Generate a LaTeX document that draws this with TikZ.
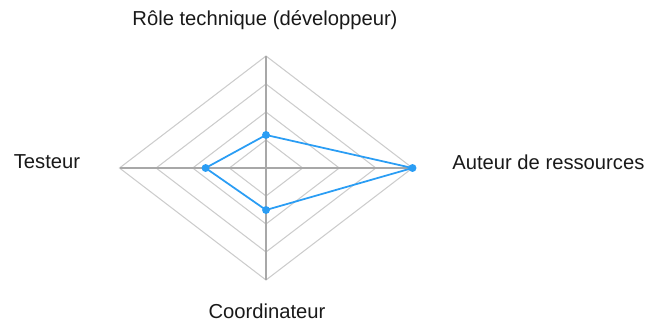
\documentclass[tikz,border=0pt]{standalone}
\usepackage{fontspec}
\setmainfont{Liberation Sans}
\usepackage{xcolor}
\usetikzlibrary{calc}

\definecolor{gridgray}{HTML}{CCCCCC}
\definecolor{axisgray}{HTML}{A8A8A8}
\definecolor{seriesblue}{HTML}{2A9DF4}

\begin{document}
\begin{tikzpicture}[
    x=0.02cm, y=-0.02cm,
    ring/.style={draw=gridgray, line width=0.6pt},
    axisline/.style={draw=axisgray, line width=0.6pt},
    series/.style={draw=seriesblue, line width=1pt, line join=round},
    dot/.style={circle, fill=seriesblue, inner sep=0pt, minimum size=4.5pt},
    axislabel/.style={font=\fontsize{11.5}{13}\selectfont, text=black!90, inner sep=0pt}
]
    \useasboundingbox (0,0) rectangle (648,322);

    % Centre and axis ends
    \coordinate (c) at (266,168);
    \coordinate (top) at (266,56);
    \coordinate (right) at (412.5,168);
    \coordinate (bottom) at (266,280);
    \coordinate (left) at (119.5,168);

    % Rings
    \foreach \k in {1,2,3,4} {
        \draw[ring] ($(c)!\k/4!(top)$) -- ($(c)!\k/4!(right)$) -- ($(c)!\k/4!(bottom)$) -- ($(c)!\k/4!(left)$) -- cycle;
    }

    % Axes
    \draw[axisline] (c) -- (top);
    \draw[axisline] (c) -- (right);
    \draw[axisline] (c) -- (bottom);
    \draw[axisline] (c) -- (left);

    % Data
    \node[dot] (dtech) at ($(c)!1.18/4!(top)$) {};
    \node[dot] (dauth) at (right) {};
    \node[dot] (dcoord) at ($(c)!1.5/4!(bottom)$) {};
    \node[dot] (dtest) at ($(c)!1.65/4!(left)$) {};
    \draw[series] (dtech.center) -- (dauth.center) -- (dcoord.center) -- (dtest.center) -- cycle;

    % Labels
    \node[axislabel] (ltech) at (265,20) {Rôle technique (développeur)};
    \node[axislabel, anchor=west] (lauth) at (452,162) {Auteur de ressources};
    \node[axislabel] (lcoord) at (267,311) {Coordinateur};
    \node[axislabel] (ltest) at (47,162) {Testeur};
\end{tikzpicture}
\end{document}
